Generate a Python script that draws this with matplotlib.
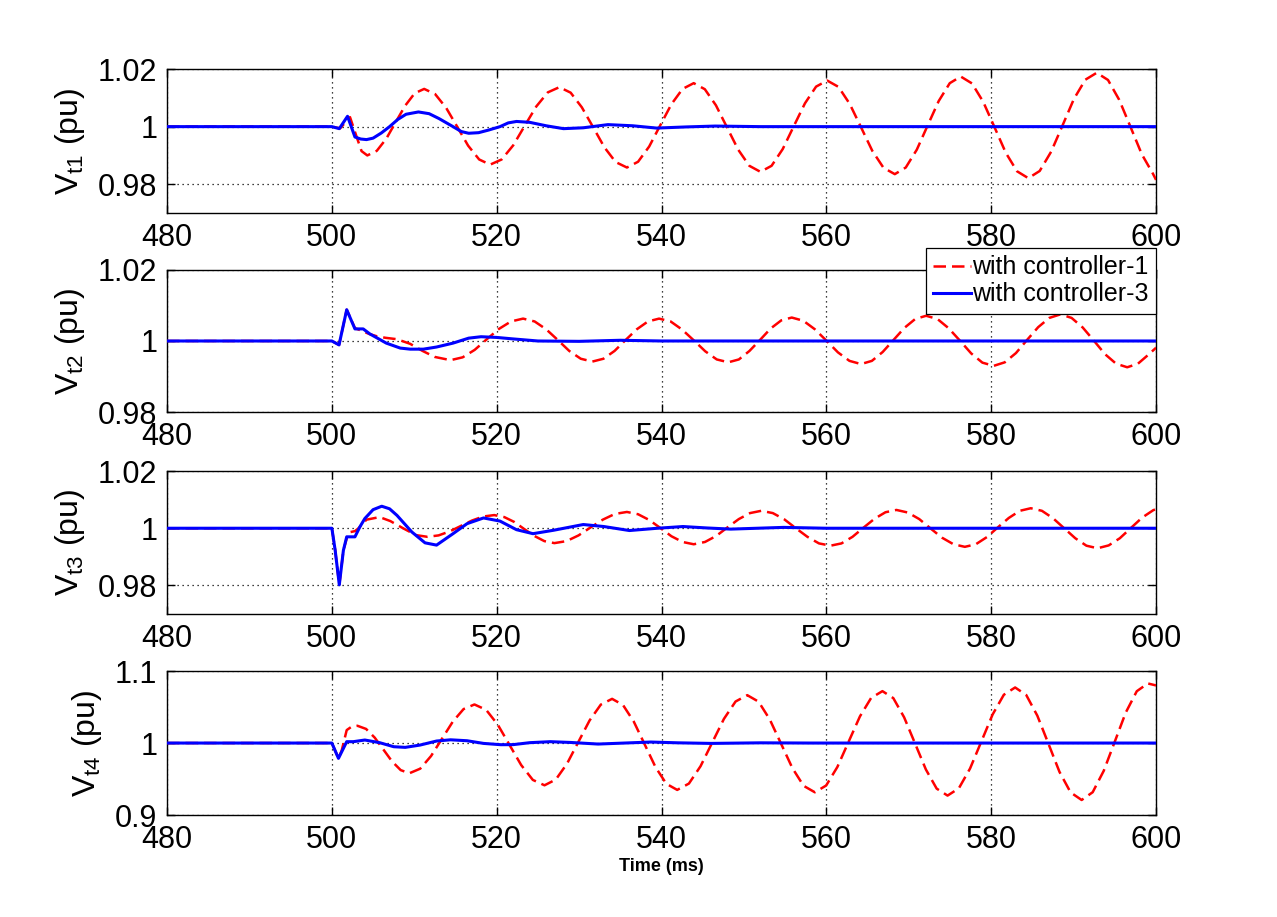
import numpy as np
import matplotlib
matplotlib.use('Agg')
import matplotlib.pyplot as plt
from matplotlib.ticker import FormatStrFormatter

plt.rcParams['font.family'] = ['Liberation Sans', 'DejaVu Sans']
plt.rcParams['mathtext.fontset'] = 'custom'
plt.rcParams['mathtext.rm'] = 'Liberation Sans'
plt.rcParams['mathtext.it'] = 'Liberation Sans'

# time axis (ms) and terminal voltages (pu)
t1_ctrl1 = [480, 500, 501, 502.2, 503.0, 503.6, 504.3, 505.45, 506.6, 507.75, 508.9, 510.05, 511.2, 512.53, 513.87,
            515.2, 516.53, 517.87, 519.2, 520.6, 522.0, 523.4, 524.8, 526.2, 527.6, 528.97, 530.33, 531.7, 533.07,
            534.43, 535.8, 537.15, 538.5, 539.85, 541.2, 542.55, 543.9, 545.25, 546.6, 547.95, 549.3, 550.65, 552.0,
            553.35, 554.7, 556.05, 557.4, 558.75, 560.1, 561.47, 562.83, 564.2, 565.57, 566.93, 568.3, 569.63,
            570.97, 572.3, 573.63, 574.97, 576.3, 577.67, 579.03, 580.4, 581.77, 583.13, 584.5, 585.88, 587.27,
            588.65, 590.03, 591.42, 592.8, 594.17, 595.53, 596.9, 598.27, 599.63, 600]
v1_ctrl1 = [1.0, 1.0, 0.9994, 1.0033, 0.9965, 0.9915, 0.9900, 0.9916, 0.9958, 1.0016, 1.0073, 1.0116, 1.0131, 1.0113,
            1.0065, 1.0000, 0.9934, 0.9886, 0.9868, 0.9886, 0.9935, 1.0003, 1.0070, 1.0119, 1.0137, 1.0118, 1.0067,
            0.9998, 0.9928, 0.9877, 0.9858, 0.9878, 0.9931, 1.0005, 1.0078, 1.0131, 1.0151, 1.0130, 1.0074, 0.9997,
            0.9920, 0.9864, 0.9843, 0.9864, 0.9922, 1.0002, 1.0081, 1.0139, 1.0160, 1.0138, 1.0079, 0.9998, 0.9916,
            0.9857, 0.9835, 0.9858, 0.9920, 1.0005, 1.0089, 1.0151, 1.0174, 1.0150, 1.0086, 0.9998, 0.9909, 0.9845,
            0.9821, 0.9846, 0.9913, 1.0004, 1.0096, 1.0163, 1.0187, 1.0162, 1.0093, 0.9999, 0.9904, 0.9836, 0.9815]
t1_ctrl3 = [480, 500, 500.9, 501.9, 502.8, 503.5, 504.2, 505.0, 506.0, 507.0, 508.0, 509.0, 510.5, 511.8, 513.0,
            514.7, 515.7, 516.6, 517.8, 519.0, 520.4, 521.4, 522.4, 524.0, 526.0, 528.1, 530.5, 533.5, 536.5,
            539.4, 543.0, 546.5, 552.0, 600]
v1_ctrl3 = [1.0, 1.0, 0.9993, 1.0036, 0.9964, 0.9957, 0.9955, 0.9960, 0.9978, 1.0000, 1.0025, 1.0043, 1.0051, 1.0045,
            1.0028, 1.0000, 0.9983, 0.9977, 0.9979, 0.9988, 1.0000, 1.0013, 1.0018, 1.0015, 1.0003, 0.9993, 0.9996,
            1.0007, 1.0003, 0.9995, 0.9999, 1.0002, 1.0000, 1.0000]

t2_ctrl1 = [480, 500, 500.87, 501.8, 502.8, 503.5, 504.5, 505.5, 506.5, 507.9, 509.5, 511.0, 512.5, 514.4, 515.87,
            517.33, 518.8, 520.27, 521.73, 523.2, 524.6, 526.0, 527.4, 528.8, 530.2, 531.6, 532.95, 534.3, 535.65,
            537.0, 538.35, 539.7, 541.1, 542.5, 543.9, 545.3, 546.7, 548.1, 549.38, 550.67, 551.95, 553.23, 554.52,
            555.8, 557.2, 558.6, 560.0, 561.4, 562.8, 564.2, 565.52, 566.83, 568.15, 569.47, 570.78, 572.1, 573.47,
            574.83, 576.2, 577.57, 578.93, 580.3, 581.65, 583.0, 584.35, 585.7, 587.05, 588.4, 589.75, 591.1,
            592.45, 593.8, 595.15, 596.5, 597.8, 599.0, 600]
v2_ctrl1 = [1.0, 1.0, 0.9989, 1.0088, 1.0036, 1.0030, 1.0020, 1.0013, 1.0009, 1.0005, 0.9992, 0.9972, 0.9955, 0.9946,
            0.9954, 0.9975, 1.0005, 1.0034, 1.0055, 1.0063, 1.0055, 1.0033, 1.0003, 0.9972, 0.9950, 0.9942, 0.9950,
            0.9972, 1.0003, 1.0033, 1.0055, 1.0063, 1.0055, 1.0032, 1.0002, 0.9971, 0.9948, 0.9940, 0.9948, 0.9972,
            1.0003, 1.0035, 1.0058, 1.0066, 1.0057, 1.0033, 1.0001, 0.9968, 0.9944, 0.9935, 0.9944, 0.9969, 1.0003,
            1.0037, 1.0062, 1.0071, 1.0062, 1.0036, 1.0001, 0.9965, 0.9939, 0.9930, 0.9940, 0.9966, 1.0003, 1.0039,
            1.0065, 1.0075, 1.0065, 1.0038, 1.0001, 0.9963, 0.9936, 0.9926, 0.9936, 0.9960, 0.9981]
t2_ctrl3 = [480, 500, 500.87, 501.8, 502.8, 503.8, 504.6, 505.6, 506.6, 508.3, 509.5, 511.1, 512.7, 514.7, 516.6,
            518.1, 520.0, 521.9, 525.0, 530.0, 535.0, 540.0, 600]
v2_ctrl3 = [1.0, 1.0, 0.9989, 1.0088, 1.0034, 1.0034, 1.0020, 1.0007, 0.9994, 0.9980, 0.9977, 0.9977, 0.9983, 0.9994,
            1.0008, 1.0012, 1.0010, 1.0006, 1.0000, 0.9999, 1.0002, 1.0000, 1.0000]

t3_ctrl1 = [480, 500, 500.4, 500.9, 501.4, 502.0, 502.8, 503.2, 504.2, 505.8, 507.1, 508.7, 510.2, 511.6, 512.95,
            514.3, 515.65, 517.0, 518.35, 519.7, 520.92, 522.13, 523.35, 524.57, 525.78, 527.0, 528.47, 529.93,
            531.4, 532.87, 534.33, 535.8, 537.15, 538.5, 539.85, 541.2, 542.55, 543.9, 545.27, 546.63, 548.0,
            549.37, 550.73, 552.1, 553.5, 554.9, 556.3, 557.7, 559.1, 560.5, 561.83, 563.17, 564.5, 565.83, 567.17,
            568.5, 569.88, 571.27, 572.65, 574.03, 575.42, 576.8, 578.13, 579.47, 580.8, 582.13, 583.47, 584.8,
            586.15, 587.5, 588.85, 590.2, 591.55, 592.9, 594.25, 595.6, 596.95, 598.3, 599.65, 600]
v3_ctrl1 = [1.0, 1.0, 0.9923, 0.9802, 0.9923, 0.9985, 0.9990, 0.9999, 1.0030, 1.0039, 1.0025, 0.9999, 0.9976, 0.9970,
            0.9975, 0.9989, 1.0008, 1.0027, 1.0041, 1.0046, 1.0039, 1.0022, 0.9997, 0.9973, 0.9955, 0.9948, 0.9955,
            0.9975, 1.0003, 1.0030, 1.0050, 1.0057, 1.0049, 1.0029, 1.0001, 0.9972, 0.9952, 0.9944, 0.9952, 0.9973,
            1.0003, 1.0032, 1.0053, 1.0061, 1.0053, 1.0031, 1.0000, 0.9970, 0.9947, 0.9939, 0.9947, 0.9970, 1.0002,
            1.0033, 1.0056, 1.0064, 1.0055, 1.0032, 0.9999, 0.9967, 0.9944, 0.9935, 0.9944, 0.9969, 1.0003, 1.0036,
            1.0061, 1.0070, 1.0061, 1.0035, 1.0000, 0.9965, 0.9939, 0.9930, 0.9940, 0.9965, 1.0001, 1.0037, 1.0063,
            1.0067]
t3_ctrl3 = [480, 500, 500.4, 500.9, 501.4, 501.8, 502.8, 503.4, 504.0, 505.0, 506.05, 507.0, 507.9, 509.7, 511.3,
            512.7, 514.7, 516.4, 518.4, 520.4, 522.4, 524.4, 526.9, 530.5, 533.0, 536.1, 539.5, 542.6, 545.5,
            548.4, 554.8, 560.0, 600]
v3_ctrl3 = [1.0, 1.0, 0.9923, 0.9802, 0.9923, 0.9970, 0.9970, 1.0005, 1.0034, 1.0065, 1.0077, 1.0068, 1.0045, 0.9987,
            0.9949, 0.9941, 0.9981, 1.0016, 1.0036, 1.0025, 0.9995, 0.9981, 0.9993, 1.0013, 1.0006, 0.9992, 1.0000,
            1.0006, 1.0001, 0.9997, 1.0003, 1.0000, 1.0000]

t4_ctrl1 = [480, 500, 500.8, 501.2, 501.8, 502.4, 503.1, 504.15, 505.2, 506.25, 507.3, 508.35, 509.4, 510.72, 512.03,
            513.35, 514.67, 515.98, 517.3, 518.72, 520.13, 521.55, 522.97, 524.38, 525.8, 527.17, 528.53, 529.9,
            531.27, 532.63, 534.0, 535.32, 536.63, 537.95, 539.27, 540.58, 541.9, 543.32, 544.73, 546.15, 547.57,
            548.98, 550.4, 551.77, 553.13, 554.5, 555.87, 557.23, 558.6, 559.97, 561.33, 562.7, 564.07, 565.43,
            566.8, 568.12, 569.43, 570.75, 572.07, 573.38, 574.7, 576.07, 577.43, 578.8, 580.17, 581.53, 582.9,
            584.25, 585.59, 586.94, 588.28, 589.63, 590.97, 592.31, 593.65, 594.99, 596.32, 597.66, 599.0, 600]
v4_ctrl1 = [1.0, 1.0, 0.9787, 0.9900, 1.0180, 1.0228, 1.0240, 1.0196, 1.0075, 0.9910, 0.9745, 0.9624, 0.9580, 0.9644,
            0.9819, 1.0058, 1.0297, 1.0472, 1.0536, 1.0461, 1.0255, 0.9975, 0.9694, 0.9488, 0.9413, 0.9493, 0.9713,
            1.0014, 1.0314, 1.0534, 1.0614, 1.0529, 1.0298, 0.9982, 0.9665, 0.9434, 0.9349, 0.9437, 0.9678, 1.0007,
            1.0336, 1.0577, 1.0665, 1.0575, 1.0328, 0.9991, 0.9653, 0.9406, 0.9316, 0.9410, 0.9667, 1.0019, 1.0370,
            1.0627, 1.0721, 1.0624, 1.0358, 0.9996, 0.9633, 0.9367, 0.9270, 0.9371, 0.9646, 1.0021, 1.0397, 1.0671,
            1.0772, 1.0667, 1.0381, 0.9991, 0.9600, 0.9314, 0.9209, 0.9317, 0.9614, 1.0019, 1.0423, 1.0720, 1.0828,
            1.0800]
t4_ctrl3 = [480, 500, 500.8, 501.8, 502.6, 504.0, 505.8, 507.5, 508.9, 510.7, 512.7, 514.4, 516.4, 518.4, 520.5,
            522.0, 524.0, 526.5, 529.0, 532.3, 535.5, 538.7, 542.0, 546.0, 552.0, 558.0, 600]
v4_ctrl3 = [1.0, 1.0, 0.9787, 1.0019, 1.0019, 1.0042, 1.0005, 0.9949, 0.9940, 0.9972, 1.0028, 1.0045, 1.0032, 0.9995,
            0.9977, 0.9978, 1.0005, 1.0019, 1.0008, 0.9986, 1.0000, 1.0014, 1.0003, 0.9995, 1.0003, 1.0000, 1.0000]

x_ticks = [480, 500, 520, 540, 560, 580, 600]
y_labels = [r'V$_{\rm t1}$ (pu)', r'V$_{\rm t2}$ (pu)', r'V$_{\rm t3}$ (pu)', r'V$_{\rm t4}$ (pu)']
y_limits = [(0.97, 1.02), (0.98, 1.02), (0.97, 1.02), (0.9, 1.1)]
y_ticks = [[0.98, 1.0, 1.02], [0.98, 1.0, 1.02], [0.98, 1.0, 1.02], [0.9, 1.0, 1.1]]
legend_labels = ['with controller-1', 'with controller-3']


def draw_panel(ax, t_a, v_a, t_b, v_b, ylabel, ylim, yticks):
    ax.plot(t_a, v_a, color='red', linestyle='--', dashes=(5, 2.4), linewidth=1.8,
            label=legend_labels[0], zorder=3)
    ax.plot(t_b, v_b, color='blue', linewidth=2.2, label=legend_labels[1], zorder=4)
    ax.set_xlim(480, 600)
    ax.set_ylim(*ylim)
    ax.set_xticks(x_ticks)
    ax.set_yticks(yticks)
    ax.yaxis.set_major_formatter(FormatStrFormatter('%g'))
    ax.grid(True, color='black', linestyle=(0, (1, 3)), linewidth=0.9)
    ax.tick_params(direction='in', length=6, width=1, top=True, right=True,
                   labelsize=22, pad=7)
    ax.set_ylabel(ylabel, fontsize=23, labelpad=8)
    for s in ax.spines.values():
        s.set_linewidth(1.0)


def main():
    fig = plt.figure(figsize=(12.77, 9.17), dpi=100)
    left, width = 0.1308, 0.7745
    boxes = [(0.7677, 0.1570), (0.5507, 0.1549), (0.3304, 0.1559), (0.1112, 0.1570)]
    series = [(t1_ctrl1, v1_ctrl1, t1_ctrl3, v1_ctrl3),
              (t2_ctrl1, v2_ctrl1, t2_ctrl3, v2_ctrl3),
              (t3_ctrl1, v3_ctrl1, t3_ctrl3, v3_ctrl3),
              (t4_ctrl1, v4_ctrl1, t4_ctrl3, v4_ctrl3)]
    axes = []
    for i, (bottom, height) in enumerate(boxes):
        ax = fig.add_axes([left, bottom, width, height])
        draw_panel(ax, *series[i], y_labels[i], y_limits[i], y_ticks[i])
        axes.append(ax)

    fig.align_ylabels(axes)

    leg = axes[1].legend(loc='upper right', bbox_to_anchor=(1.0, 1.155), fontsize=18,
                         frameon=True, fancybox=False, framealpha=1, edgecolor='black',
                         borderpad=0.3, labelspacing=0.12, handlelength=1.5,
                         handletextpad=0.05, borderaxespad=0)
    leg.get_frame().set_linewidth(0.9)
    leg.set_zorder(10)

    axes[3].set_xlabel('Time (ms)', fontsize=13, fontweight='bold', labelpad=2)

    fig.savefig('out.png', dpi=100)
    plt.close(fig)


if __name__ == "__main__":
    main()
